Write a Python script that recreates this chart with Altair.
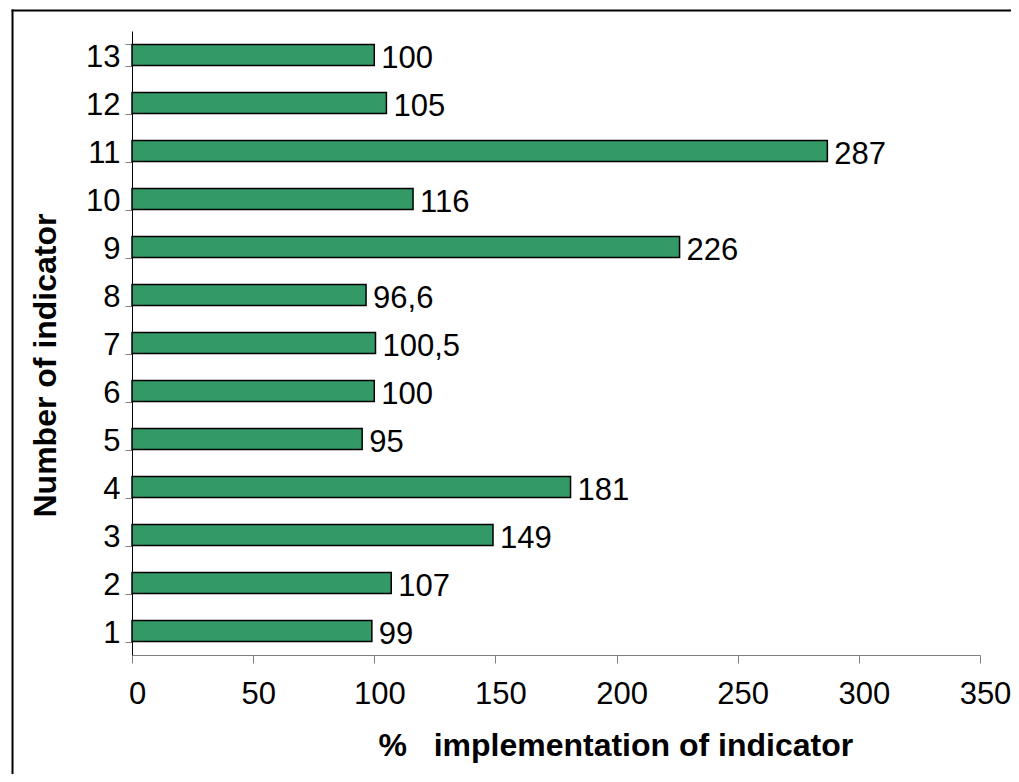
import altair as alt
import pandas as pd

indicators = [1, 2, 3, 4, 5, 6, 7, 8, 9, 10, 11, 12, 13]
values = [99, 107, 149, 181, 95, 100, 100.5, 96.6, 226, 116, 287, 105, 100]
labels = ["99", "107", "149", "181", "95", "100", "100,5", "96,6", "226", "116", "287", "105", "100"]
x_ticks = [0, 50, 100, 150, 200, 250, 300, 350]

df = pd.DataFrame({"ind": indicators, "val": values, "lab": labels})
order = list(reversed(indicators))

FONT = "Liberation Sans"
FS = 31

y_enc = alt.Y(
    "ind:O",
    sort=order,
    scale=alt.Scale(paddingInner=0.56, paddingOuter=0.28),
    axis=alt.Axis(
        title="Number of indicator",
        labelFontSize=FS, labelFont=FONT, labelColor="black", labelPadding=5, labelOffset=2,
        tickSize=7, tickColor="#808080", tickBand="extent",
        domainColor="black", domainWidth=1,
        titleFont=FONT, titleFontSize=32, titleFontWeight="bold", titleColor="black",
        titleX=-77, titleY=334, titleAngle=270, titleAlign="center", titleBaseline="alphabetic",
        labelAngle=0, grid=False,
    ),
)

x_enc = alt.X(
    "val:Q",
    scale=alt.Scale(domain=[0, 350], nice=False, zero=True),
    axis=alt.Axis(
        title="%\u00a0\u00a0\u00a0implementation of indicator",
        values=x_ticks, format="d",
        labelFontSize=FS, labelFont=FONT, labelColor="black", labelPadding=16, labelOffset=5,
        tickSize=8, tickColor="#808080", domainColor="#808080", domainWidth=1,
        titleFont=FONT, titleFontSize=32, titleFontWeight="bold", titleColor="black",
        titleX=246, titleY=100, titleAlign="left", titleBaseline="alphabetic", titleAngle=0,
        grid=False, labelFlush=False, labelOverlap=False,
    ),
)

bars = alt.Chart(df).mark_bar(color="#339966", stroke="black", strokeWidth=1.5).encode(
    x=x_enc, y=y_enc
)

text = alt.Chart(df).mark_text(
    align="left", baseline="alphabetic", dx=7, dy=13, fontSize=FS, font=FONT, color="black"
).encode(
    x=alt.X("val:Q"), y=alt.Y("ind:O", sort=order), text="lab:N"
)

frame_df = pd.DataFrame({"a": [0]})
frame_left = alt.Chart(frame_df).mark_rule(color="black", strokeWidth=2).encode(
    x=alt.value(-119.5), y=alt.value(-21.5), y2=alt.value(760)
)
frame_top = alt.Chart(frame_df).mark_rule(color="black", strokeWidth=2).encode(
    x=alt.value(-120.5), x2=alt.value(900), y=alt.value(-20.5)
)

chart = alt.layer(bars, text, frame_left, frame_top).properties(
    width=848,
    height=624,
    background="white",
    autosize=alt.AutoSizeParams(type="none"),
    padding={"left": 124, "top": 23, "right": 31, "bottom": 119},
).configure_view(stroke=None)

chart.save("out.html", embed_options={"renderer": "svg", "actions": False})
